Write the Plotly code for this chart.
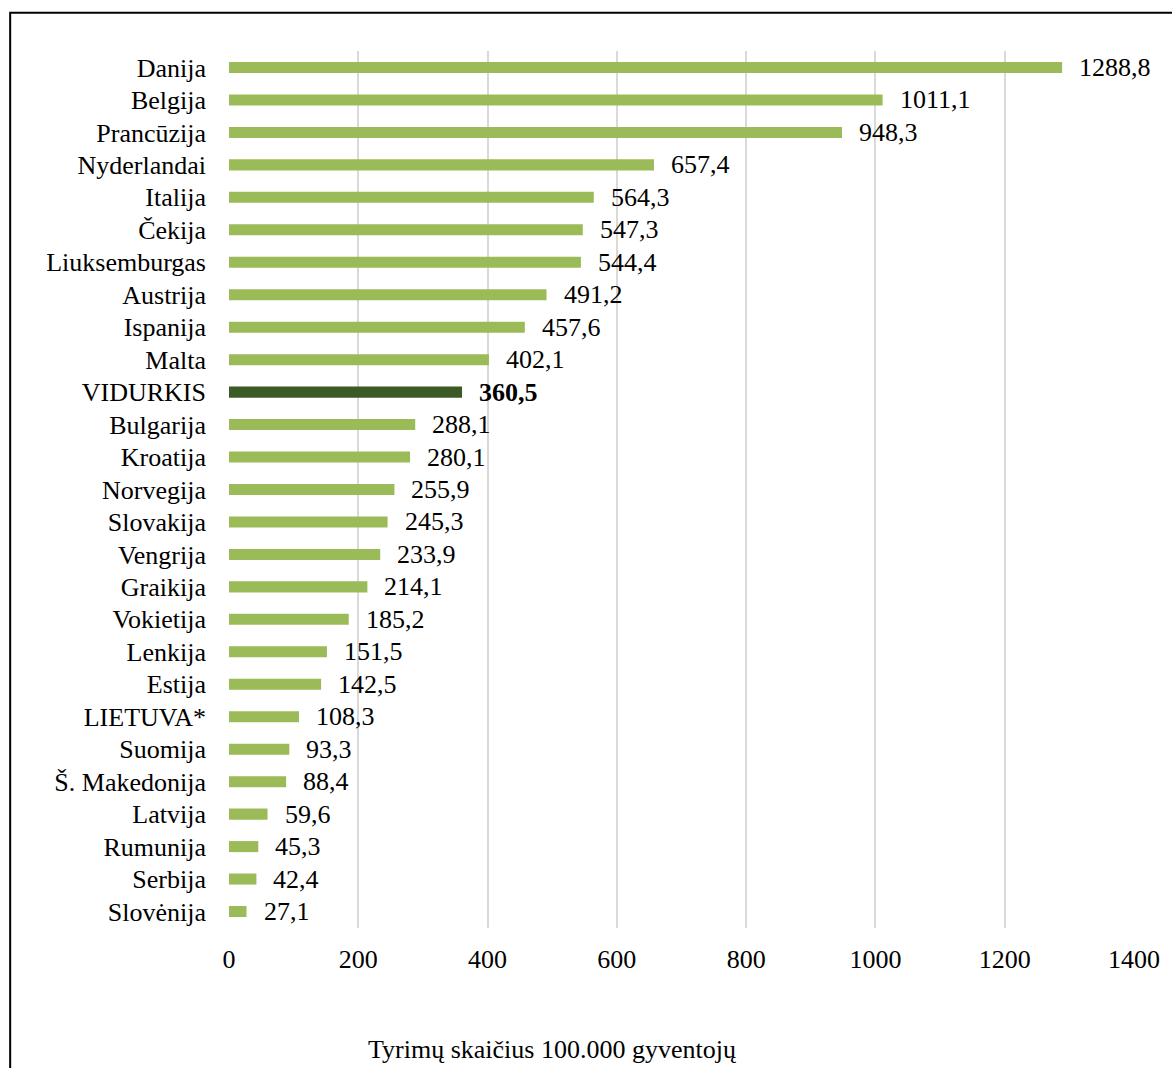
import plotly.graph_objects as go

countries = ["Danija", "Belgija", "Prancūzija", "Nyderlandai", "Italija", "Čekija",
             "Liuksemburgas", "Austrija", "Ispanija", "Malta", "VIDURKIS", "Bulgarija",
             "Kroatija", "Norvegija", "Slovakija", "Vengrija", "Graikija", "Vokietija",
             "Lenkija", "Estija", "LIETUVA*", "Suomija", "Š. Makedonija", "Latvija",
             "Rumunija", "Serbija", "Slovėnija"]
values = [1288.8, 1011.1, 948.3, 657.4, 564.3, 547.3, 544.4, 491.2, 457.6, 402.1,
          360.5, 288.1, 280.1, 255.9, 245.3, 233.9, 214.1, 185.2, 151.5, 142.5,
          108.3, 93.3, 88.4, 59.6, 45.3, 42.4, 27.1]
highlight = "VIDURKIS"
x_ticks = [0, 200, 400, 600, 800, 1000, 1200, 1400]
x_title = "Tyrimų skaičius 100.000 gyventojų"

LIGHT = "#9BBB59"
DARK = "#3B5A25"
FONT = "Liberation Serif, Times New Roman, serif"

colors = [DARK if c == highlight else LIGHT for c in countries]

fig = go.Figure()
fig.add_trace(go.Bar(
    x=values, y=countries, orientation="h",
    marker=dict(color=colors, line=dict(width=0)),
    width=0.34, hoverinfo="x+y",
))

for c, v in zip(countries, values):
    label = f"{v:.1f}".replace(".", ",")
    if c == highlight:
        label = f"<b>{label}</b>"
    fig.add_annotation(x=v, y=c, text=label, showarrow=False,
                       xanchor="left", yanchor="middle", xshift=15, yshift=0,
                       font=dict(family=FONT, size=26, color="black"))

fig.add_annotation(x=0.357, y=-0.139, xref="paper", yref="paper",
                   text=x_title, showarrow=False, xanchor="center", yanchor="middle",
                   font=dict(family=FONT, size=26, color="black"))

# outer frame
fig.add_shape(type="rect", xref="paper", yref="paper",
              x0=-0.2418, x1=1.2, y0=-0.5, y1=1.0436,
              line=dict(color="black", width=2), layer="above")

fig.update_layout(
    width=1172, height=1068,
    margin=dict(l=229, r=31, t=51, b=140),
    paper_bgcolor="white", plot_bgcolor="white",
    showlegend=False,
    font=dict(family=FONT, size=26, color="black"),
    bargap=0.66,
)
fig.update_xaxes(range=[0, 1400], tickvals=x_ticks, ticktext=[str(t) for t in x_ticks],
                 showgrid=True, gridcolor="#D9D9D9", gridwidth=2,
                 zeroline=False, showline=False, ticks="",
                 ticklabelstandoff=13,
                 tickfont=dict(family=FONT, size=26, color="black"))
fig.update_yaxes(categoryorder="array", categoryarray=countries, autorange="reversed",
                 showgrid=False, zeroline=False, showline=False, ticks="",
                 ticklabelstandoff=22,
                 tickfont=dict(family=FONT, size=26, color="black"))

fig.write_html("out.html")
